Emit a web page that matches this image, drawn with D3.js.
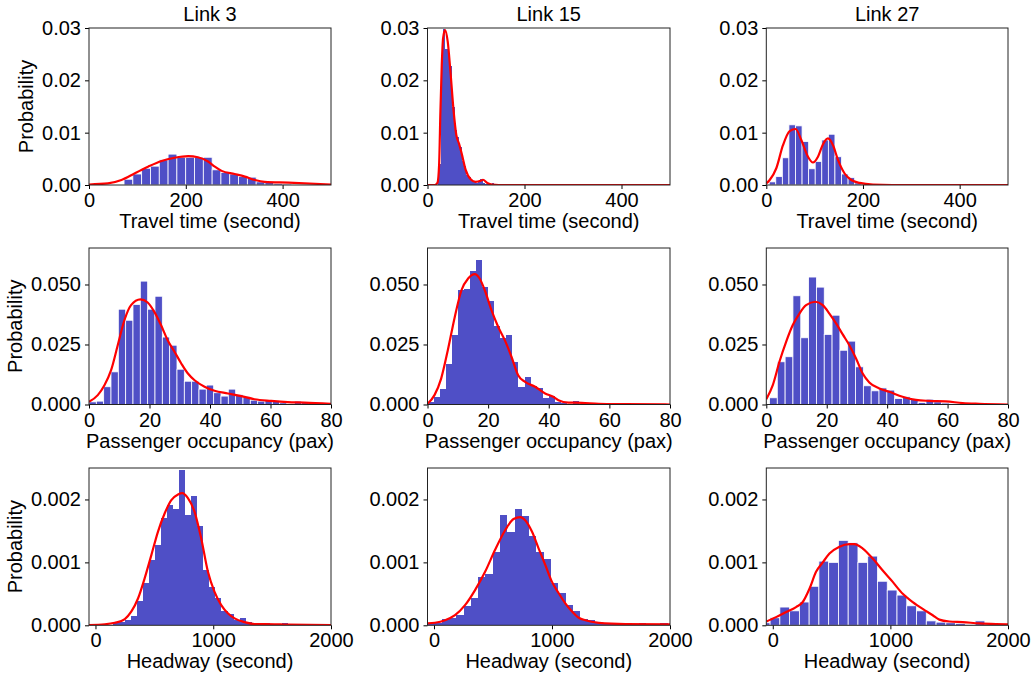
<!DOCTYPE html>
<html>
<head>
<meta charset="utf-8">
<script src="https://cdn.jsdelivr.net/npm/d3@7/dist/d3.min.js"></script>
<style>
    body { margin: 0; background: #fff; }
    svg { display: block; font-family: "Liberation Sans", Arial, sans-serif; }
</style>
</head>
<body>
<div id="chart"></div>
<script>
// Column titles and row labels
const linkTitles = ["Link 3", "Link 15", "Link 27"];
const rowLabels = ["Travel time (second)", "Passenger occupancy (pax)", "Headway (second)"];

// Axis settings per row
const xDomains = [[0, 500], [0, 80], [-55, 2000]];
const xTickValues = [[0, 200, 400], [0, 20, 40, 60, 80], [0, 1000, 2000]];
const yMaxima = [0.03, 0.0652, 0.0025];
const yTickValues = [[0, 0.01, 0.02, 0.03], [0, 0.025, 0.05], [0, 0.001, 0.002]];
const yTickFormats = [".2f", ".3f", ".3f"];

// Travel time, link 3: [first bin edge, bin width], bar heights, kde curve
const travel3Bins = [72.4, 18.2];
const travel3Hist = [0.0011, 0.0021, 0.0032, 0.0036, 0.0048, 0.0059, 0.0053, 0.0053, 0.0053, 0.0053,
    0.0029, 0.0024, 0.0021, 0.0016, 0.0015, 0.0006, 0.0005, 0.0003, 0.0002];
const travel3KdeX = [0, 39, 67, 94, 122, 150, 177, 205, 225, 246, 260, 274, 301, 322, 343, 363, 412, 500];
const travel3KdeY = [0.0001, 0.0003, 0.00095, 0.0022, 0.0035, 0.0046, 0.0052, 0.0055, 0.0053, 0.0045,
    0.0035, 0.0027, 0.0021, 0.0016, 0.00095, 0.0006, 0.00045, 0.0001];

// Travel time, link 15
const travel15Bins = [22.5, 4.8];
const travel15Hist = [0.004, 0.0249, 0.0298, 0.026, 0.0251, 0.0228, 0.015, 0.0105, 0.0091, 0.0073,
    0.0045, 0.0036, 0.0019, 0.0015, 0.0008, 0.0006, 0.0004, 0.0005, 0.0011, 0.0003,
    0.0001, 0.0001, 0.0001, 0.0003, 0.0001];
const travel15KdeX = [0, 15, 20.5, 23.9, 26.6, 29.4, 32.1, 36.2, 41.7, 47.9, 53.4, 59.5, 65.0, 70.5,
    78.7, 89.0, 99.3, 109.6, 114.4, 123.3, 133.5, 160, 500];
const travel15KdeY = [0, 0, 0.0004, 0.0038, 0.014, 0.0229, 0.028, 0.0296, 0.0274, 0.021, 0.0146, 0.0095,
    0.0079, 0.006, 0.0029, 0.0011, 0.0006, 0.0008, 0.001, 0.0004, 0.0001, 0, 0];

// Travel time, link 27
const travel27Bins = [6.0, 13.6];
const travel27Hist = [0.0006, 0.0016, 0.0052, 0.0115, 0.0113, 0.0083, 0.0031, 0.0045, 0.0086, 0.0097,
    0.0054, 0.0021, 0.0014, 0.0004];
const travel27KdeX = [0, 7, 20.7, 34.5, 48.3, 60.7, 72.4, 86.2, 96.6, 106.9, 117.3, 127.6, 138, 148.3,
    162, 175.9, 193, 220.7, 300, 500];
const travel27KdeY = [0.0003, 0.00095, 0.0032, 0.0076, 0.0103, 0.0107, 0.0086, 0.0054, 0.0043, 0.0054,
    0.0078, 0.0089, 0.0076, 0.0048, 0.0022, 0.00095, 0.0004, 0.0001, 0, 0];

// Passenger occupancy, link 3
const occupancy3Bins = [0, 2.424];
const occupancy3Hist = [0.0011, 0.0014, 0.0074, 0.0136, 0.0397, 0.0351, 0.0417, 0.0514, 0.0397, 0.0451,
    0.0281, 0.0247, 0.0147, 0.0097, 0.0097, 0.0064, 0.0081, 0.0049, 0.0035, 0.0064,
    0.0042, 0.0032, 0.0018, 0.0014, 0.0018, 0.0017, 0.0007, 0.0004, 0.0014, 0.0008,
    0.0008, 0.0003, 0.0003];
const occupancy3KdeX = [0, 2.9, 5.1, 7.3, 9.5, 11.7, 13.9, 17.0, 19.4, 21.6, 23.8, 26.0, 28.3, 30.5,
    32.7, 34.9, 38.2, 41.5, 45.9, 50.3, 54.7, 60.2, 65.7, 71.2, 80];
const occupancy3KdeY = [0.0011, 0.0039, 0.008, 0.0143, 0.0247, 0.0351, 0.0414, 0.0438, 0.0425, 0.0386,
    0.0331, 0.0268, 0.0219, 0.0171, 0.0129, 0.0101, 0.0074, 0.0057, 0.0046, 0.0035,
    0.0022, 0.0015, 0.001, 0.0008, 0.0003];

// Passenger occupancy, link 15
const occupancy15Bins = [0, 2];
const occupancy15Hist = [0.0011, 0.0032, 0.0064, 0.0167, 0.0289, 0.0476, 0.0483, 0.0556, 0.0601, 0.049,
    0.0431, 0.0326, 0.0279, 0.0289, 0.0178, 0.0074, 0.0115, 0.0076, 0.0067, 0.0025,
    0.0036, 0.0011, 0.0007, 0.0003, 0.0014, 0.0003, 0.0002, 0.0001];
const occupancy15KdeX = [0.1, 2.3, 4.5, 6.7, 9.0, 11.2, 13.4, 15.6, 17.2, 18.9, 21.1, 23.3, 25.5, 27.7,
    29.9, 32.2, 35.5, 38.8, 41.5, 43.2, 46.5, 50.9, 56.5, 65.3, 80];
const occupancy15KdeY = [0.0004, 0.0039, 0.0108, 0.0226, 0.0365, 0.0476, 0.0525, 0.0543, 0.0525, 0.0476,
    0.0393, 0.0324, 0.0268, 0.0199, 0.0122, 0.0094, 0.0074, 0.0046, 0.0032, 0.0018,
    0.0008, 0.0007, 0.0003, 0.00015, 0];

// Passenger occupancy, link 27
const occupancy27Bins = [1.05, 2.59];
const occupancy27Hist = [0.0028, 0.0178, 0.0199, 0.0453, 0.0278, 0.0531, 0.0489, 0.0292, 0.0372, 0.0226,
    0.0264, 0.0157, 0.0078, 0.0057, 0.0069, 0.006, 0.0025, 0.0032, 0.0021, 0.0008,
    0.0022, 0.0011, 0.0006, 0.0003, 0.0003, 0.0002];
const occupancy27KdeX = [0, 2.15, 4.35, 6.56, 8.76, 10.96, 13.17, 16.25, 18.68, 20.88, 23.09, 25.29,
    27.49, 29.7, 31.9, 34.1, 37.4, 40.7, 45.1, 49.5, 53.9, 59.4, 65.0, 70.5, 80];
const occupancy27KdeY = [0.0022, 0.0081, 0.0178, 0.0261, 0.0331, 0.0379, 0.0414, 0.0428, 0.0414, 0.0379,
    0.0338, 0.0292, 0.0247, 0.0192, 0.0129, 0.0092, 0.0067, 0.0053, 0.0032, 0.0019,
    0.0015, 0.0013, 0.0006, 0.0003, 0];

// Headway, link 3
const headway3Bins = [144.8, 51.4];
const headway3Hist = [0.00004, 0.00006, 0.00009, 0.00015, 0.00038, 0.00068, 0.00104, 0.00128, 0.00171,
    0.00191, 0.00185, 0.00247, 0.00175, 0.00205, 0.00158, 0.00088, 0.00061, 0.00043,
    0.00023, 0.00018, 0.00009, 0.00011, 0.00006, 0.00003, 0.00002, 0.00004, 0.00001,
    0.00001, 0.00004];
const headway3KdeX = [-55, 79, 164, 249, 305, 362, 418, 475, 531, 588, 644, 701, 737, 785, 842, 898,
    955, 1011, 1068, 1124, 1181, 1266, 1350, 1520, 1633, 2000];
const headway3KdeY = [0.000005, 0.000016, 0.00004, 0.0001, 0.00022, 0.00043, 0.00075, 0.00112, 0.00149,
    0.00178, 0.00199, 0.00208, 0.0021, 0.00202, 0.0018, 0.00138, 0.00085, 0.00053,
    0.00032, 0.00019, 0.00011, 0.00005, 0.00002, 0.000016, 0.00001, 0.000005];

// Headway, link 15
const headway15Bins = [-57.8, 61.76];
const headway15Hist = [0.00004, 0.00003, 0.0001, 0.00012, 0.00016, 0.0003, 0.00043, 0.00076, 0.00081,
    0.00116, 0.00175, 0.00149, 0.00185, 0.00174, 0.00142, 0.00116, 0.00106, 0.00068,
    0.00051, 0.00033, 0.00023, 0.0001, 0.00008, 0.00004, 0.00003, 0.00002, 0.00001,
    0.00001, 0.00002, 0.00003, 0.00001, 0.00002, 0.00003];
const headway15KdeX = [-55, 8.5, 93.5, 178, 263, 348, 433, 518, 603, 674, 731, 773, 830, 887, 943, 1000,
    1057, 1113, 1170, 1227, 1283, 1397, 1623, 2000];
const headway15KdeY = [0.00003, 0.00004, 0.00008, 0.00016, 0.00032, 0.00056, 0.00085, 0.0012, 0.00151,
    0.00169, 0.00172, 0.00167, 0.00149, 0.00122, 0.00096, 0.00069, 0.00051, 0.00035,
    0.00022, 0.00012, 0.00008, 0.00004, 0.00002, 0.000016];

// Headway, link 27
const headway27Bins = [-105.7, 83];
const headway27Hist = [0.00004, 0.00012, 0.00029, 0.00023, 0.00037, 0.00062, 0.00102, 0.001, 0.00135,
    0.00131, 0.001, 0.0011, 0.0007, 0.00056, 0.00048, 0.00031, 0.00023, 0.00007,
    0.00005, 0.00004, 0.00003, 0.00001, 0.00007, 0.00001, 0.00001];
const headway27KdeX = [-55, 28, 113, 198, 255, 312, 368, 425, 482, 567, 652, 694, 765, 850, 935, 1020,
    1105, 1190, 1275, 1360, 1416, 1501, 1615, 1756, 1898, 2000];
const headway27KdeY = [0.00006, 0.00013, 0.00021, 0.00029, 0.00037, 0.00058, 0.00085, 0.001, 0.00114,
    0.00125, 0.00129, 0.00129, 0.00122, 0.00106, 0.00087, 0.00069, 0.0005, 0.00037,
    0.00026, 0.00016, 0.00009, 0.00006, 0.00005, 0.00003, 0.00002, 0.000016];

// Panels in reading order
const panels = [
    { bins: travel3Bins, hist: travel3Hist, kdeX: travel3KdeX, kdeY: travel3KdeY },
    { bins: travel15Bins, hist: travel15Hist, kdeX: travel15KdeX, kdeY: travel15KdeY },
    { bins: travel27Bins, hist: travel27Hist, kdeX: travel27KdeX, kdeY: travel27KdeY },
    { bins: occupancy3Bins, hist: occupancy3Hist, kdeX: occupancy3KdeX, kdeY: occupancy3KdeY },
    { bins: occupancy15Bins, hist: occupancy15Hist, kdeX: occupancy15KdeX, kdeY: occupancy15KdeY },
    { bins: occupancy27Bins, hist: occupancy27Hist, kdeX: occupancy27KdeX, kdeY: occupancy27KdeY },
    { bins: headway3Bins, hist: headway3Hist, kdeX: headway3KdeX, kdeY: headway3KdeY },
    { bins: headway15Bins, hist: headway15Hist, kdeX: headway15KdeX, kdeY: headway15KdeY },
    { bins: headway27Bins, hist: headway27Hist, kdeX: headway27KdeX, kdeY: headway27KdeY }
];

// Layout
const width = 1032;
const height = 675;
const colLeft = [89, 427.5, 766.3];
const colRight = [331, 670, 1008];
const rowTop = [28, 248, 468];
const rowBottom = [185, 404.5, 625.3];
const fontSize = 20;
const barColour = "#4f4fc6";
const kdeColour = "#ff0000";
// which panels show the white gaps between bars
const whiteEdges = [true, false, true, true, false, true, false, false, true];

const svg = d3.select("#chart")
    .append("svg")
    .attr("width", width)
    .attr("height", height)
    .attr("viewBox", [0, 0, width, height]);

const defs = svg.append("defs");

panels.forEach((panel, i) => {
    const row = Math.floor(i / 3);
    const col = i % 3;
    const left = colLeft[col], right = colRight[col];
    const top = rowTop[row], bottom = rowBottom[row];

    const x = d3.scaleLinear().domain(xDomains[row]).range([left, right]);
    const y = d3.scaleLinear().domain([0, yMaxima[row]]).range([bottom, top]);

    // Clip everything to the axes box
    defs.append("clipPath")
        .attr("id", "clip-" + i)
        .append("rect")
        .attr("x", left)
        .attr("y", top)
        .attr("width", right - left)
        .attr("height", bottom - top);

    const plot = svg.append("g").attr("clip-path", "url(#clip-" + i + ")");

    // Histogram bars
    const bars = panel.hist.map((h, k) => ({
        x0: panel.bins[0] + k * panel.bins[1],
        x1: panel.bins[0] + (k + 1) * panel.bins[1],
        h: h
    }));

    plot.append("g")
        .attr("shape-rendering", whiteEdges[i] ? null : "crispEdges")
        .selectAll("rect")
        .data(bars)
        .enter()
        .append("rect")
        .attr("x", d => x(d.x0))
        .attr("y", d => y(d.h))
        .attr("width", d => x(d.x1) - x(d.x0))
        .attr("height", d => y(0) - y(d.h))
        .attr("fill", barColour)
        .attr("stroke", whiteEdges[i] ? "#fff" : "none")
        .attr("stroke-width", 0.8);

    // KDE curve
    const kde = panel.kdeX.map((v, k) => [v, panel.kdeY[k]]);
    const line = d3.line()
        .x(d => x(d[0]))
        .y(d => y(d[1]))
        .curve(d3.curveMonotoneX);

    plot.append("path")
        .datum(kde)
        .attr("d", line)
        .attr("fill", "none")
        .attr("stroke", kdeColour)
        .attr("stroke-width", 2.2)
        .attr("stroke-linejoin", "round");

    // Axes
    const xAxis = d3.axisBottom(x)
        .tickValues(xTickValues[row])
        .tickFormat(d3.format("d"))
        .tickSizeInner(4)
        .tickSizeOuter(0)
        .tickPadding(4);

    const gx = svg.append("g")
        .attr("transform", "translate(0," + bottom + ")")
        .call(xAxis);
    gx.select(".domain").remove();
    gx.selectAll("text").attr("font-size", fontSize).attr("fill", "#000").attr("font-family", null);
    gx.selectAll("line").attr("stroke", "#000");

    const yAxis = d3.axisLeft(y)
        .tickValues(yTickValues[row])
        .tickFormat(d3.format(yTickFormats[row]))
        .tickSizeInner(4)
        .tickSizeOuter(0)
        .tickPadding(4);

    const gy = svg.append("g")
        .attr("transform", "translate(" + left + ",0)")
        .call(yAxis);
    gy.select(".domain").remove();
    gy.selectAll("text").attr("font-size", fontSize).attr("fill", "#000").attr("font-family", null);
    gy.selectAll("line").attr("stroke", "#000");

    // Frame
    svg.append("rect")
        .attr("x", left)
        .attr("y", top)
        .attr("width", right - left)
        .attr("height", bottom - top)
        .attr("fill", "none")
        .attr("stroke", "#222")
        .attr("stroke-width", 1);

    // X axis label
    svg.append("text")
        .attr("x", (left + right) / 2)
        .attr("y", bottom + 43)
        .attr("text-anchor", "middle")
        .attr("font-size", fontSize)
        .text(rowLabels[row]);

    // Column titles on the top row
    if (row === 0) {
        svg.append("text")
            .attr("x", (left + right) / 2)
            .attr("y", 21)
            .attr("text-anchor", "middle")
            .attr("font-size", fontSize)
            .text(linkTitles[col]);
    }

    // Y axis label on the first column
    if (col === 0) {
        const labelX = row === 0 ? 33 : 22;
        svg.append("text")
            .attr("transform", "translate(" + labelX + "," + ((top + bottom) / 2) + ") rotate(-90)")
            .attr("text-anchor", "middle")
            .attr("font-size", fontSize)
            .text("Probability");
    }
});
</script>
</body>
</html>
